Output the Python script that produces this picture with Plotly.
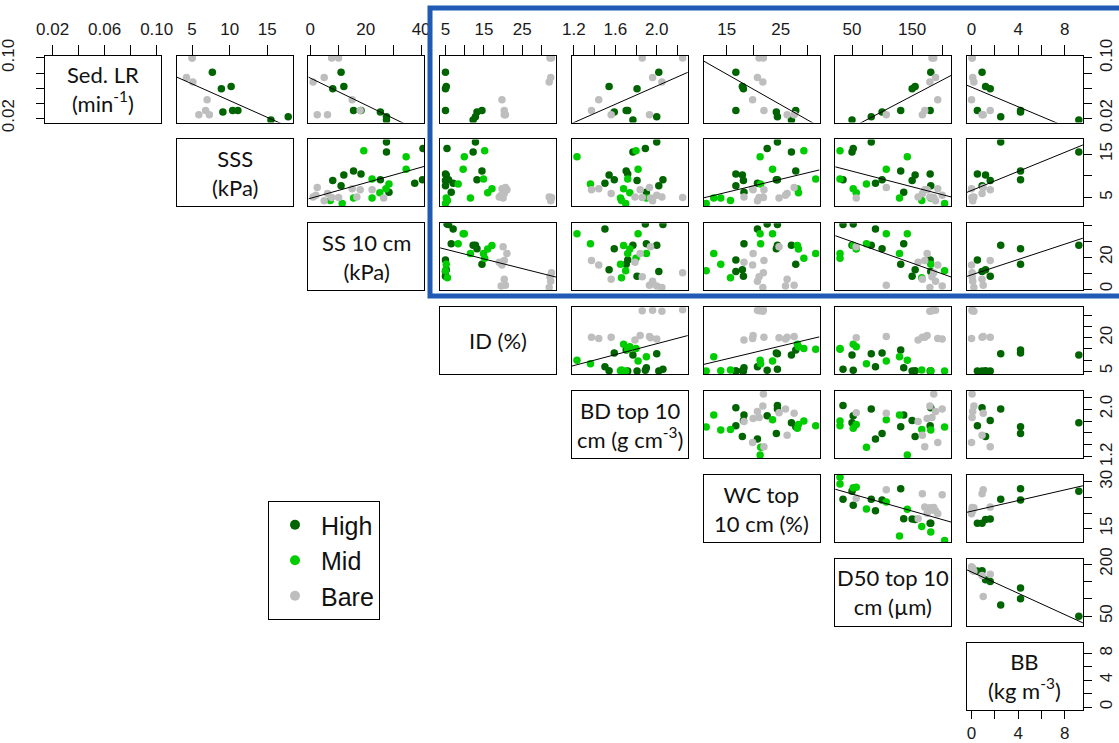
import numpy as np
import plotly.graph_objects as go

nan = float('nan')
W, H = 1119, 743

# ---------------- data (one row per sampling point) ----------------
groups = ["High"] * 12 + ["Mid"] * 11 + ["Bare"] * 12

sed_lr = [0.022, 0.0175, nan, 0.030, 0.030, 0.062, 0.059, 0.081, 0.028, nan, nan, nan,
          nan, nan, nan, nan, nan, nan, nan, nan, nan, nan, nan,
          0.100, 0.100, 0.074, 0.068, 0.0445, 0.030, 0.0245, 0.0245, nan, nan, nan, nan]
sss = [17.8, 15.5, 16.3, 11.1, 10.4, 10.2, 8.9, 7.7, 9.1, 6.2, 8.3, 9.1,
       15.8, 14.4, 11.5, 9.25, 8.1, 7.0, 6.1, 4.9, 4.9, 3.6, 4.3,
       5.0, 5.0, 4.25, 5.1, 7.0, 6.8, 5.9, 7.3, 5.1, 6.8, 4.9, 5.5]
ss10 = [27.5, 27.5, 40.7, 15.6, 18.3, 12.1, 8.1, 11.1, 25.3, 28.4, 37.7, 40.5,
        19.3, 34.6, 34.6, 22.3, 28.4, 27.3, 25.1, 22.3, 15.6, 11.5, 7.2,
        7.7, 10.2, 5.0, 1.0, 15.1, 18.0, 6.2, 2.5, 16.8, 22.3, 26.5, 2.0]
id_pct = [12.8, 12.2, 5.4, 14.5, 5.0, 5.2, 5.0, 5.0, 13.2, 6.5, 7.0, 5.8,
          15.2, 9.9, 9.6, 14.9, 8.3, 17.1, 16.0, 11.5, 5.2, 5.0, 5.5,
          32.2, 32.6, 32.4, 32.0, 19.7, 20.3, 20.3, 20.6, 19.0, 21.0, 20.0, 19.5]
bd = [2.0, 1.77, 1.89, 1.705, 1.72, 1.54, 1.81, 2.02, 1.59, 1.9, 1.5, 2.06,
      1.80, 1.23, 1.82, 1.72, 1.36, 1.68, 1.74, 1.90, 1.65, 1.70, 1.66,
      1.86, 2.25, 1.96, 2.05, 1.44, 1.37, 1.56, 1.93, 1.79, 1.84, 1.94, 2.0]
wc = [24.4, 27.0, 22.5, 27.8, 16.7, 17.9, 18.1, 16.7, 24.2, 18.2, 20.7, 24.4,
      29.3, 21.2, 23.5, 31.5, 21.3, 28.1, 28.3, 12.6, 13.9, 11.2, 15.7,
      21.0, 21.8, 20.7, 21.7, 19.8, 21.9, 26.2, 27.5, 18.2, 19.9, 24.7, 25.9]
d50 = [82, 50, 52, 131, 180, 155, 150, 181, 100, 136, 89, 35,
       30, 142, 107, 30, 74, 52, 57, 129, 181, 204, 166,
       183, 186, 189, 179.5, 192.6, 171, 167, 107, 160, 175, 57, 200]
bb = [2.5, 9.2, nan, 4.2, 0.5, 1.2, 1.6, 0.9, 4.2, nan, nan, nan,
      nan, nan, nan, nan, nan, nan, nan, nan, nan, nan, nan,
      0.05, 0.05, 0.1, 0.2, 0.0, 1.6, 0.9, 1.0, nan, nan, nan, nan]

variables = [sed_lr, sss, ss10, id_pct, bd, wc, d50, bb]
var_labels = ["Sed. LR<br>(min<sup>-1</sup>)", "SSS<br>(kPa)", "SS 10 cm<br>(kPa)", "ID (%)",
              "BD top 10<br>cm (g cm<sup>-3</sup>)", "WC top<br>10 cm (%)",
              "D50 top 10<br>cm (µm)", "BB<br>(kg m<sup>-3</sup>)"]

group_names = ["High", "Mid", "Bare"]
group_colors = {"High": "#006400", "Mid": "#00CD00", "Bare": "#BEBEBE"}

# tick values and labels (top/bottom labels, right/left labels)
tick_vals = [[0.02, 0.04, 0.06, 0.08, 0.10], [5, 10, 15], [0, 10, 20, 30, 40],
             [5, 10, 15, 20, 25, 30], [1.2, 1.4, 1.6, 1.8, 2.0, 2.2], [15, 20, 25, 30],
             [50, 100, 150, 200], [0, 2, 4, 6, 8]]
tick_text_x = [["0.02", "", "0.06", "", "0.10"], ["5", "10", "15"], ["0", "", "20", "", "40"],
               ["5", "", "15", "", "25", ""], ["1.2", "", "1.6", "", "2.0", ""],
               ["15", "", "25", ""], ["50", "", "150", ""], ["0", "", "4", "", "8"]]
tick_text_y = [["0.02", "", "", "", "0.10"], ["5", "", "15"], ["0", "", "20", "", ""],
               ["5", "", "", "20", "", ""], ["1.2", "", "", "", "2.0", ""],
               ["15", "", "", "30"], ["50", "", "", "200"], ["0", "", "4", "", "8"]]

# panels with a fitted regression line (row, col)
fit_panels = {(0, 1), (0, 2), (0, 4), (0, 5), (0, 6), (0, 7), (1, 2), (1, 5), (1, 6), (1, 7),
              (2, 3), (2, 6), (2, 7), (3, 4), (3, 5), (5, 6), (5, 7), (6, 7)}

# ---------------- layout geometry ----------------
ranges = [[0.0142, 0.1033], [2.95, 18.4], [-0.7, 41.2], [3.6, 33.8],
          [1.18, 2.30], [10.7, 32.2], [22, 215], [-0.4, 9.55]]
left = [45 + 131.7 * j for j in range(8)]
top = [55.5 + 83.9 * i for i in range(8)]
pw, ph = 116, 67

TICKFONT = dict(family="Liberation Sans, Arial, sans-serif", size=17, color="#1a1a1a")
LABELFONT = dict(family="Lato, Open Sans, sans-serif", size=22, color="#111111")

fig = go.Figure()
layout = dict(template="none", width=W, height=H, margin=dict(l=0, r=0, t=0, b=0, pad=0),
              paper_bgcolor="white", plot_bgcolor="white", showlegend=True)
annotations = []

colors = np.array([group_colors[g] for g in groups])
k = 0
for i in range(8):
    for j in range(i, 8):
        k += 1
        xname = "xaxis" if k == 1 else f"xaxis{k}"
        yname = "yaxis" if k == 1 else f"yaxis{k}"
        xa = dict(domain=[left[j] / W, (left[j] + pw) / W], range=ranges[j], anchor=f"y{k}",
                  showline=True, mirror=True, linecolor="black", linewidth=1, automargin=False,
                  showgrid=False, zeroline=False, ticks="", showticklabels=False)
        ya = dict(domain=[1 - (top[i] + ph) / H, 1 - top[i] / H], range=ranges[i], anchor=f"x{k}",
                  showline=True, mirror=True, linecolor="black", linewidth=1, automargin=False,
                  showgrid=False, zeroline=False, ticks="", showticklabels=False)
        if i == 0 or (i == 7 and j == 7):
            xa.update(side="top" if i == 0 else "bottom", ticks="outside",
                      ticklen=10 if i == 0 else 8,
                      tickcolor="black", tickwidth=1, tickvals=tick_vals[j], ticktext=tick_text_x[j],
                      showticklabels=True, tickfont=TICKFONT,
                      ticklabelstandoff=3 if i == 0 else 0)
        if j == 7 or (i == 0 and j == 0):
            ya.update(side="right" if j == 7 else "left", ticks="outside", ticklen=8,
                      tickcolor="black", tickwidth=1, tickvals=tick_vals[i], ticktext=tick_text_y[i],
                      showticklabels=True, tickfont=TICKFONT, tickangle=-90,
                      ticklabelstandoff=0 if j == 7 else 15)
        layout[xname] = xa
        layout[yname] = ya

        if i == j:
            # empty trace so that the label panel box and its axes are drawn
            fig.add_trace(go.Scatter(x=[None], y=[None], mode="markers", showlegend=False,
                                     xaxis=f"x{k}", yaxis=f"y{k}", hoverinfo="skip"))
            annotations.append(dict(text=var_labels[i], x=(left[j] + pw / 2) / W,
                                    y=1 - (top[i] + ph / 2) / H, xref="paper", yref="paper",
                                    xanchor="center", yanchor="middle", showarrow=False,
                                    font=LABELFONT, align="center"))
            continue

        xs = np.array(variables[j], dtype=float)
        ys = np.array(variables[i], dtype=float)
        ok = ~(np.isnan(xs) | np.isnan(ys))
        fig.add_trace(go.Scatter(x=xs[ok], y=ys[ok], mode="markers", showlegend=False,
                                 xaxis=f"x{k}", yaxis=f"y{k}", hoverinfo="skip",
                                 marker=dict(size=7.5, color=colors[ok].tolist(),
                                             line=dict(width=0))))
        if (i, j) in fit_panels:
            slope, intercept = np.polyfit(xs[ok], ys[ok], 1)
            lx = np.array(ranges[j])
            fig.add_trace(go.Scatter(x=lx, y=intercept + slope * lx, mode="lines",
                                     showlegend=False, xaxis=f"x{k}", yaxis=f"y{k}",
                                     line=dict(color="black", width=1), hoverinfo="skip"))

# legend entries
for g in group_names:
    fig.add_trace(go.Scatter(x=[None], y=[None], mode="markers", name=g,
                             xaxis="x2", yaxis="y2",
                             marker=dict(size=10, color=group_colors[g])))

layout["legend"] = dict(x=268 / W, y=1 - 501 / H, xanchor="left", yanchor="top",
                        bgcolor="white", bordercolor="black", borderwidth=1,
                        font=dict(family="Liberation Sans, Arial, sans-serif", size=25, color="#111111"),
                        itemwidth=42, tracegroupgap=0)

layout["shapes"] = [dict(type="rect", xref="paper", yref="paper",
                         x0=430 / W, x1=1140 / W, y0=1 - 296 / H, y1=1 - 8 / H,
                         line=dict(color="#1F5BB5", width=5), fillcolor="rgba(0,0,0,0)")]
layout["annotations"] = annotations
fig.update_layout(**layout)

fig.write_html("out.html", config={"displayModeBar": False})
